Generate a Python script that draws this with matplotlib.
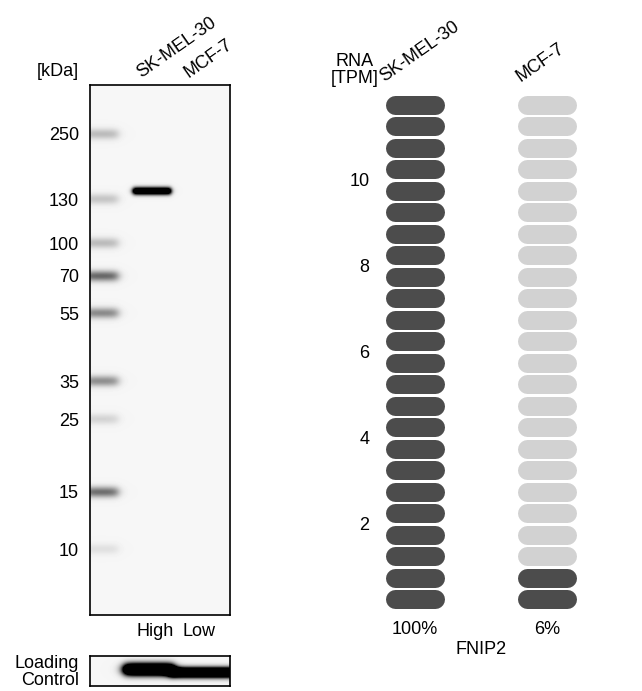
import numpy as np
import matplotlib
matplotlib.use('Agg')
import matplotlib.pyplot as plt

plt.rcParams['font.family'] = ['Liberation Sans', 'DejaVu Sans']

# ---------------- data ----------------
# Western blot
marker_kda = ['250', '130', '100', '70', '55', '35', '25', '15', '10']
marker_pos = [49, 114, 158, 191, 228, 296, 334, 407, 464]   # migration in gel (px from top)
marker_int = [0.24, 0.20, 0.24, 0.58, 0.44, 0.42, 0.14, 0.55, 0.09]
lanes = ['SK-MEL-30', 'MCF-7']
lane_level = ['High', 'Low']
sample_band_pos = [106, 106]
sample_band_int = [1.0, 0.0]
loading_int = [1.0, 1.0]

# RNA expression
rna_lines = ['SK-MEL-30', 'MCF-7']
rna_tpm = [12.0, 0.7]
rna_ticks = [2, 4, 6, 8, 10]
gene = 'FNIP2'

# ---------------- figure ----------------
W, H = 642, 691
fig = plt.figure(figsize=(W / 100, H / 100), dpi=100)
FS = 13


def px_axes(l, t, r, b):
    return fig.add_axes([l / W, 1 - b / H, (r - l) / W, (b - t) / H])


def sig(z):
    return 1.0 / (1.0 + np.exp(-z))


def xedge(xx, a, b, w=1.5):
    return sig((xx - a) / w) * sig((b - xx) / w)


# ---- main blot ----
GW, GH = 140, 530
ax = px_axes(90, 85, 230, 615)
yy, xx = np.mgrid[0:GH, 0:GW] + 0.5
dark = np.zeros((GH, GW))
for p, s in zip(marker_pos, marker_int):
    dark += s * np.exp(-0.5 * ((yy - p) / 3.8) ** 2) * xedge(xx, -5, 28, 2.5)
lane_centers = [62, 110]
for c, p, s in zip(lane_centers, sample_band_pos, sample_band_int):
    dark += 1.8 * s * np.exp(-0.5 * ((yy - p) / 2.6) ** 2) * xedge(xx, c - 19, c + 19, 1.3)
img = 0.965 * (1 - np.clip(dark, 0, 1))
ax.imshow(img, cmap='gray', vmin=0, vmax=1, extent=(0, GW, GH, 0),
          aspect='auto', interpolation='bilinear')
ax.set_xlim(0, GW)
ax.set_ylim(GH, 0)
ax.set_xticks([])
ax.set_yticks(marker_pos, marker_kda)
ax.tick_params(axis='y', length=0, pad=8, labelsize=FS)
for sp in ax.spines.values():
    sp.set_linewidth(1.2)
for c, name in zip(lane_centers, lanes):
    ax.text(c - 11, -7, name, rotation=35, rotation_mode='anchor', ha='left',
            va='baseline', fontsize=FS, clip_on=False)
for c, lvl in zip([65, 109], lane_level):
    ax.text(c, 547, lvl, ha='center', va='center', fontsize=FS, clip_on=False)
fig.text(58 / W, 1 - 72 / H, '[kDa]', ha='center', va='center', fontsize=FS)

# ---- loading control ----
LH = 30
axl = px_axes(90, 656, 230, 686)
yy2, xx2 = np.mgrid[0:LH, 0:GW] + 0.5
dark2 = np.zeros((LH, GW))
lc_specs = [(34, 84, 13.5, 4.2), (80, 150, 16.5, 3.4)]
for (a, b, yc, sd), s in zip(lc_specs, loading_int):
    dark2 += 2.5 * s * np.exp(-0.5 * ((yy2 - yc) / sd) ** 2) * xedge(xx2, a, b, 2.5)
img2 = 0.965 * (1 - np.clip(dark2, 0, 1))
axl.imshow(img2, cmap='gray', vmin=0, vmax=1, extent=(0, GW, LH, 0),
           aspect='auto', interpolation='bilinear')
axl.set_xticks([])
axl.set_yticks([])
for sp in axl.spines.values():
    sp.set_linewidth(1.2)
fig.text(79 / W, 1 - 672 / H, 'Loading\nControl', ha='right', va='center',
         multialignment='right', fontsize=FS, linespacing=1.0)

# ---- RNA pills ----
PX_PER_X = 132.0
X0 = 415.0
L, R, T, B = 386, 600, 94, 610
axr = px_axes(L, T, R, B)
axr.set_xlim((L - X0) / PX_PER_X, (R - X0) / PX_PER_X)
ymax = 12.0
axr.set_ylim(0, ymax)
step = 0.5
n_pills = int(ymax / step)
pill_h_px = 19.0
pill_w_px = 59.0
half = (pill_w_px / 2 - pill_h_px / 2) / PX_PER_X
lw = pill_h_px * 72 / 100
dark_c, light_c = '#4c4c4c', '#d2d2d2'
for j, v in enumerate(rna_tpm):
    nfill = int(np.ceil(v / step - 1e-9))
    for i in range(n_pills):
        yc = (i + 0.5) * step
        col = dark_c if i < nfill else light_c
        axr.plot([j - half, j + half], [yc, yc], color=col, lw=lw,
                 solid_capstyle='round', clip_on=False)
axr.set_xticks([])
axr.set_yticks(rna_ticks, [str(t) for t in rna_ticks])
axr.tick_params(axis='y', length=0, pad=12, labelsize=FS)
for sp in axr.spines.values():
    sp.set_visible(False)
axr.patch.set_alpha(0)

px_per_y = (B - T) / ymax
mx = max(rna_tpm)
for j, v in enumerate(rna_tpm):
    axr.text(j, (B - 630) / px_per_y, f'{round(100 * v / mx)}%', ha='center',
             va='center', fontsize=FS, clip_on=False)
axr.text(0.5, (B - 649) / px_per_y, gene, ha='center', va='center',
         fontsize=FS, clip_on=False)
label_dx = [-31, -26]
for j, (name, dx) in enumerate(zip(rna_lines, label_dx)):
    axr.text(j + dx / PX_PER_X, (B - 82) / px_per_y, name, rotation=35,
             rotation_mode='anchor', ha='left', va='baseline', fontsize=FS,
             clip_on=False)
fig.text(355 / W, 1 - 70 / H, 'RNA\n[TPM]', ha='center', va='center',
         fontsize=FS, linespacing=1.0)

fig.savefig('out.png', dpi=100)
